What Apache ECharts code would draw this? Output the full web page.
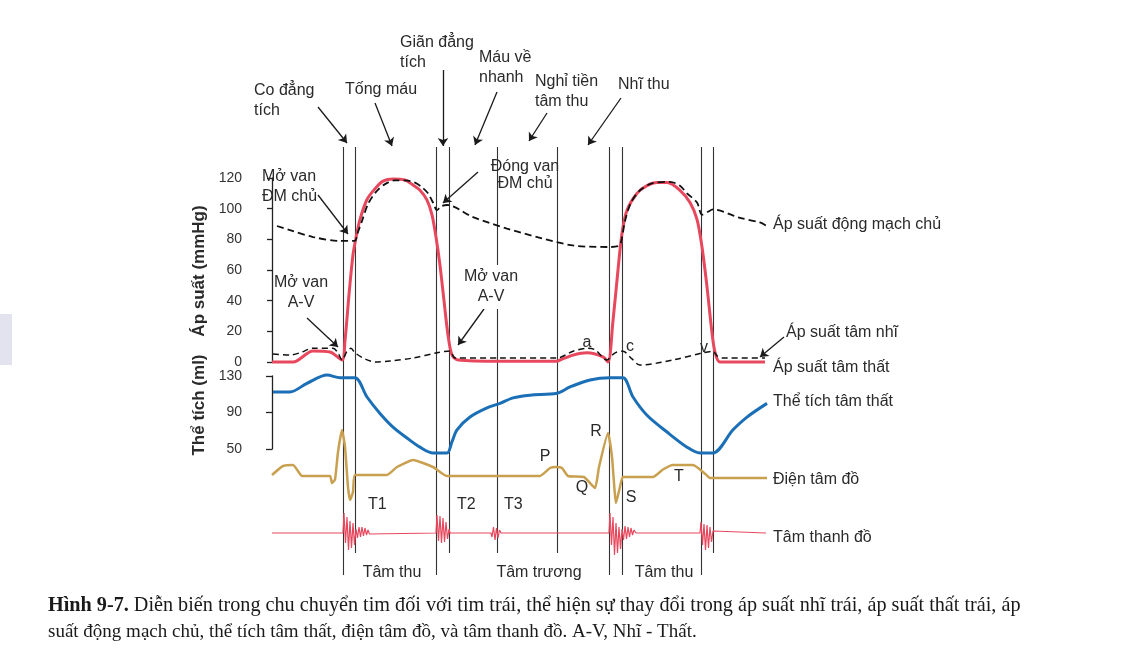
<!DOCTYPE html>
<html><head><meta charset="utf-8">
<script src="https://cdn.jsdelivr.net/npm/echarts@6.0.0/dist/echarts.min.js"></script>
<style>html,body{margin:0;padding:0;background:#fff}#c{width:1139px;height:663px}</style>
</head><body><div id="c"></div>
<script>
// time axis units (t) for all traces
var phaseTimes = [71, 83, 164, 177, 225, 285, 337, 350, 429, 441];
var phaseLong  = [true, false, true, false, false, false, true, true, true, false];

var pressureTicks = [0, 20, 40, 60, 80, 100, 120];
var volumeTicks = [50, 90, 130];

// Left ventricular pressure (mmHg)
var lvPressure = [[0,0],[21,0],[41,7.2],[58,6.5],[70,1.3],[73,14],[77,44],[81,70],[84,81],[88,93],[95,106],[103,113],[111,118],[121,119.4],[133,118.7],[141,115.4],[148,112],[155,105.6],[160,96],[164,81.5],[168,63],[172,40],[176,17.6],[180,4.6],[186,1.3],[228,0.5],[285,0.5],[288,1.3],[301,4.5],[315,6],[331,3.3],[336,0],[341,27],[346,60],[350,84],[355,99],[365,110],[375,115],[385,117],[395,117],[408,112],[418,104],[425,93],[430,75],[435,49],[440,19],[443,6.5],[448,0],[493,0]];
// Aortic pressure (mmHg)
var aorticPressure = [[5,88.7],[18,86],[41,81.5],[68,79],[83,79],[85,83],[90,92],[96,103],[104,111],[113,116],[123,118.5],[136,118.3],[143,117],[150,114],[156,110],[161,104],[165,99],[169,101.5],[175,102.4],[201,94.5],[235,87],[268,81],[301,76],[336,75],[346,75.5],[349,78],[353,92],[359,104],[368,112],[380,116.5],[398,117.5],[408,115],[415,110],[425,104],[430,96],[436,98],[441,99.5],[468,94],[488,91],[494,89]];
// Left atrial pressure (mmHg)
var atrialPressure = [[1,5.2],[18,4.6],[28,6],[41,9],[61,9],[66,6],[70,1.3],[75,7],[79,9],[83,6],[93,2],[103,0],[118,0.6],[141,2.6],[165,6],[178,7.2],[183,2.6],[228,2.6],[285,2.6],[301,7],[315,9],[323,8],[335,1.3],[341,5],[345,6.5],[351,7],[360,2],[368,-2],[401,1.3],[431,6],[441,7],[445,4],[450,2.6],[493,2.6]];
// Ventricular volume (ml)
var lvVolume = [[1,112.5],[18,112.5],[35,122],[55,131],[68,128],[83,128],[95,107],[108,89],[121,74],[135,62],[148,52],[161,45.6],[175,45.6],[180,58],[185,71],[198,85],[215,95],[228,100],[241,106],[258,109],[285,111],[298,118],[318,125.6],[338,128],[351,128],[361,107],[375,87],[395,68.6],[415,52],[428,45.6],[441,45.6],[461,71],[475,85],[495,100]];
// ECG (mV, relative)
var ecg = [[0,0.04],[11,0.22],[21,0.24],[28,0.06],[30,0.02],[58,0.02],[60,-0.12],[63,-0.05],[66,0.5],[70,0.94],[73,0.6],[76,-0.2],[78,-0.46],[81,-0.3],[83,0.04],[115,0.04],[125,0.2],[141,0.34],[161,0.2],[175,0.02],[268,0.02],[278,0.18],[284,0.2],[290,0.18],[296,0.02],[312,0],[323,-0.22],[327,0.2],[336,0.88],[340,0.4],[344,-0.52],[348,-0.2],[351,0],[381,0],[391,0.15],[401,0.24],[421,0.24],[434,0.05],[438,-0.02],[495,-0.02]];
// Phonocardiogram (relative)
var pcg = [[0,0],[71,0],
 [72,1.0],[73.5,-0.5],[75,0.8],[76.5,-0.85],[78,0.6],[79.5,-0.75],[81,0.5],[82.5,-0.6],[84,0.2],[85.5,-0.25],[87,0.3],[88.5,-0.2],[90,0.3],[91.5,-0.15],[93,0.25],[94.5,-0.1],[96,0.15],[97.5,-0.05],[99,0],
 [164,0],[165,0.9],[166.5,-0.4],[168,0.85],[169.5,-0.5],[171,0.75],[172.5,-0.45],[174,0.55],[175.5,-0.3],[177,0.2],[178,0],
 [219,0],[220,-0.2],[221.5,0.3],[223,-0.35],[224.5,0.25],[226,-0.25],[227.5,0.15],[229,0],
 [337,0],[338,1.0],[339.5,-0.6],[341,0.8],[342.5,-1.1],[344,0.5],[345.5,-1.0],[347,0.3],[348.5,-0.8],[350,0.2],[351.5,-0.35],[353,0.35],[354.5,-0.3],[356,0.3],[357.5,-0.2],[359,0.25],[360.5,-0.1],[362,0.15],[364,0],
 [428,0],[429,0.55],[430.5,-0.6],[432,0.45],[433.5,-0.85],[435,0.4],[436.5,-0.75],[438,0.3],[439.5,-0.45],[441,0.1],[442,0],[494,0]];

var SANS = '"Liberation Sans", Arial, sans-serif';
var SERIF = '"Liberation Serif", "Times New Roman", serif';
var RED = '#e8485d', BLUE = '#1b6fb6', GOLD = '#c9a050', INK = '#2a2a2a';

var chart = echarts.init(document.getElementById('c'), null, {renderer: 'canvas'});

function tx(text, x, y, opt) {
  opt = opt || {};
  return {type: 'text', z: opt.z || 50, x: x, y: y, rotation: opt.rot || 0,
    style: Object.assign({text: text, fill: opt.fill || INK, font: opt.font || ('16px ' + SANS),
      align: opt.align || 'left', verticalAlign: 'middle', lineHeight: opt.lh || 20}, opt.style || {})};
}

var X = {type: 'value', min: 0, max: 494, show: false};
var option = {
  backgroundColor: '#fff',
  animation: false,
  grid: [
    {left: 272, width: 494, top: 178, height: 184},
    {left: 272, width: 494, top: 376, height: 73},
    {left: 272, width: 494, top: 427, height: 100},
    {left: 272, width: 494, top: 513, height: 40},
    {left: 272, width: 494, top: 147, height: 428},
    {left: 0, width: 1139, top: 0, height: 663}
  ],
  xAxis: [
    Object.assign({gridIndex: 0}, X), Object.assign({gridIndex: 1}, X),
    Object.assign({gridIndex: 2}, X), Object.assign({gridIndex: 3}, X),
    Object.assign({gridIndex: 4}, X),
    {gridIndex: 5, type: 'value', min: 0, max: 1139, show: false}
  ],
  yAxis: [
    {gridIndex: 0, type: 'value', min: pressureTicks[0], max: pressureTicks[pressureTicks.length - 1], interval: 20, offset: 17,
     axisLine: {show: true, lineStyle: {color: '#222', width: 1.3}},
     axisTick: {show: true, length: 5, lineStyle: {color: '#222', width: 1.3}},
     axisLabel: {color: '#333', fontSize: 14, fontFamily: SANS, margin: 13},
     splitLine: {show: false}},
    {gridIndex: 1, type: 'value', min: volumeTicks[0], max: volumeTicks[volumeTicks.length - 1], interval: 40, offset: 15,
     axisLine: {show: true, lineStyle: {color: '#222', width: 1.3}},
     axisTick: {show: true, length: 6, lineStyle: {color: '#222', width: 1.3}},
     axisLabel: {color: '#333', fontSize: 14, fontFamily: SANS, margin: 15},
     splitLine: {show: false}},
    {gridIndex: 2, type: 'value', min: -1, max: 1, show: false},
    {gridIndex: 3, type: 'value', min: -1, max: 1, show: false},
    {gridIndex: 4, type: 'value', min: 0, max: 428, show: false},
    {gridIndex: 5, type: 'value', min: 0, max: 663, inverse: true, show: false}
  ],
  series: [
    {type: 'lines', coordinateSystem: 'cartesian2d', xAxisIndex: 4, yAxisIndex: 4, z: 1, silent: true,
     lineStyle: {color: '#333', width: 1.1, opacity: 1},
     data: phaseTimes.map(function (t, i) { return {coords: [[t, phaseLong[i] ? 0 : 22], [t, 428]]}; })},
    {type: 'line', xAxisIndex: 0, yAxisIndex: 0, data: lvPressure, symbol: 'none', smooth: 0.3, clip: false, z: 5,
     lineStyle: {color: RED, width: 3}},
    {type: 'line', xAxisIndex: 0, yAxisIndex: 0, data: aorticPressure, symbol: 'none', smooth: 0.3, clip: false, z: 6,
     lineStyle: {color: '#111', width: 1.8, type: [7, 4]}},
    {type: 'line', xAxisIndex: 0, yAxisIndex: 0, data: atrialPressure, symbol: 'none', smooth: 0.3, clip: false, z: 6,
     lineStyle: {color: '#111', width: 1.5, type: [6, 4]}},
    {type: 'line', xAxisIndex: 1, yAxisIndex: 1, data: lvVolume, symbol: 'none', smooth: 0.3, clip: false, z: 5,
     lineStyle: {color: BLUE, width: 3}},
    {type: 'line', xAxisIndex: 2, yAxisIndex: 2, data: ecg, symbol: 'none', smooth: 0.15, clip: false, z: 5,
     lineStyle: {color: GOLD, width: 2.5}},
    {type: 'line', xAxisIndex: 3, yAxisIndex: 3, data: pcg, symbol: 'none', smooth: false, clip: false, z: 5,
     lineStyle: {color: RED, width: 1.2}},
    {type: 'lines', coordinateSystem: 'cartesian2d', xAxisIndex: 5, yAxisIndex: 5, z: 8, silent: true,
     symbol: ['none', 'arrow'], symbolSize: 8,
     lineStyle: {color: '#1a1a1a', width: 1.3, opacity: 1},
     data: [
       {coords: [[318, 107], [347, 143]]},
       {coords: [[375, 103], [392, 146]]},
       {coords: [[443, 70], [443, 146]]},
       {coords: [[497, 92], [475, 145]]},
       {coords: [[547, 113], [529, 141]]},
       {coords: [[621, 98], [588, 145]]},
       {coords: [[318, 195], [348, 234]]},
       {coords: [[478, 172], [443, 203]]},
       {coords: [[307, 318], [338, 347]]},
       {coords: [[484, 309], [458, 345]]},
       {coords: [[784, 337], [760, 357]]}
     ]}
  ],
  graphic: [
    {type: 'rect', shape: {x: 0, y: 314, width: 12, height: 51}, style: {fill: '#e3e3f0'}},
    tx('Áp suất (mmHg)', 199, 271, {rot: Math.PI / 2, align: 'center', font: 'bold 17px ' + SANS}),
    tx('Thể tích (ml)', 199, 405, {rot: Math.PI / 2, align: 'center', font: 'bold 17px ' + SANS}),
    tx('Co đẳng\ntích', 254, 101),
    tx('Tống máu', 345, 90),
    tx('Giãn đẳng\ntích', 400, 53),
    tx('Máu về\nnhanh', 479, 68),
    tx('Nghỉ tiền\ntâm thu', 535, 92),
    tx('Nhĩ thu', 618, 85),
    tx('Mở van\nĐM chủ', 262, 187),
    tx('Đóng van\nĐM chủ', 525, 175, {align: 'center', lh: 17}),
    tx('Mở van\nA-V', 301, 293, {align: 'center', lh: 20}),
    tx('Mở van\nA-V', 491, 287, {align: 'center', lh: 20, z: 60, style: {backgroundColor: '#fff', padding: [2, 2]}}),
    tx('a', 587, 343, {align: 'center'}),
    tx('c', 630, 347, {align: 'center'}),
    tx('v', 704, 348, {align: 'center'}),
    tx('Áp suất động mạch chủ', 773, 225),
    tx('Áp suất tâm nhĩ', 786, 333),
    tx('Áp suất tâm thất', 773, 368),
    tx('Thể tích tâm thất', 773, 402),
    tx('Điện tâm đồ', 773, 480),
    tx('Tâm thanh đồ', 773, 538),
    tx('T1', 368, 505),
    tx('T2', 457, 505),
    tx('T3', 504, 505),
    tx('P', 545, 457, {align: 'center'}),
    tx('R', 596, 432, {align: 'center'}),
    tx('Q', 582, 488, {align: 'center'}),
    tx('S', 631, 498, {align: 'center'}),
    tx('T', 679, 477, {align: 'center'}),
    tx('Tâm thu', 392, 573, {align: 'center'}),
    tx('Tâm trương', 539, 573, {align: 'center'}),
    tx('Tâm thu', 664, 573, {align: 'center'}),
    {type: 'text', x: 48, y: 593, z: 50, style: {
      text: '{b|Hình 9-7.} Diễn biến trong chu chuyển tim đối với tim trái, thể hiện sự thay đổi trong áp suất nhĩ trái, áp suất thất trái, áp',
      font: '20.2px ' + SERIF, fill: '#1a1a1a', lineHeight: 26,
      rich: {b: {fontWeight: 'bold', fontFamily: SERIF, fontSize: 20.2, fill: '#1a1a1a'}}}},
    {type: 'text', x: 48, y: 619, z: 50, style: {
      text: 'suất động mạch chủ, thể tích tâm thất, điện tâm đồ, và tâm thanh đồ. A-V, Nhĩ - Thất.',
      font: '19px ' + SERIF, fill: '#1a1a1a', lineHeight: 26}}
  ]
};
chart.setOption(option);
</script></body></html>
